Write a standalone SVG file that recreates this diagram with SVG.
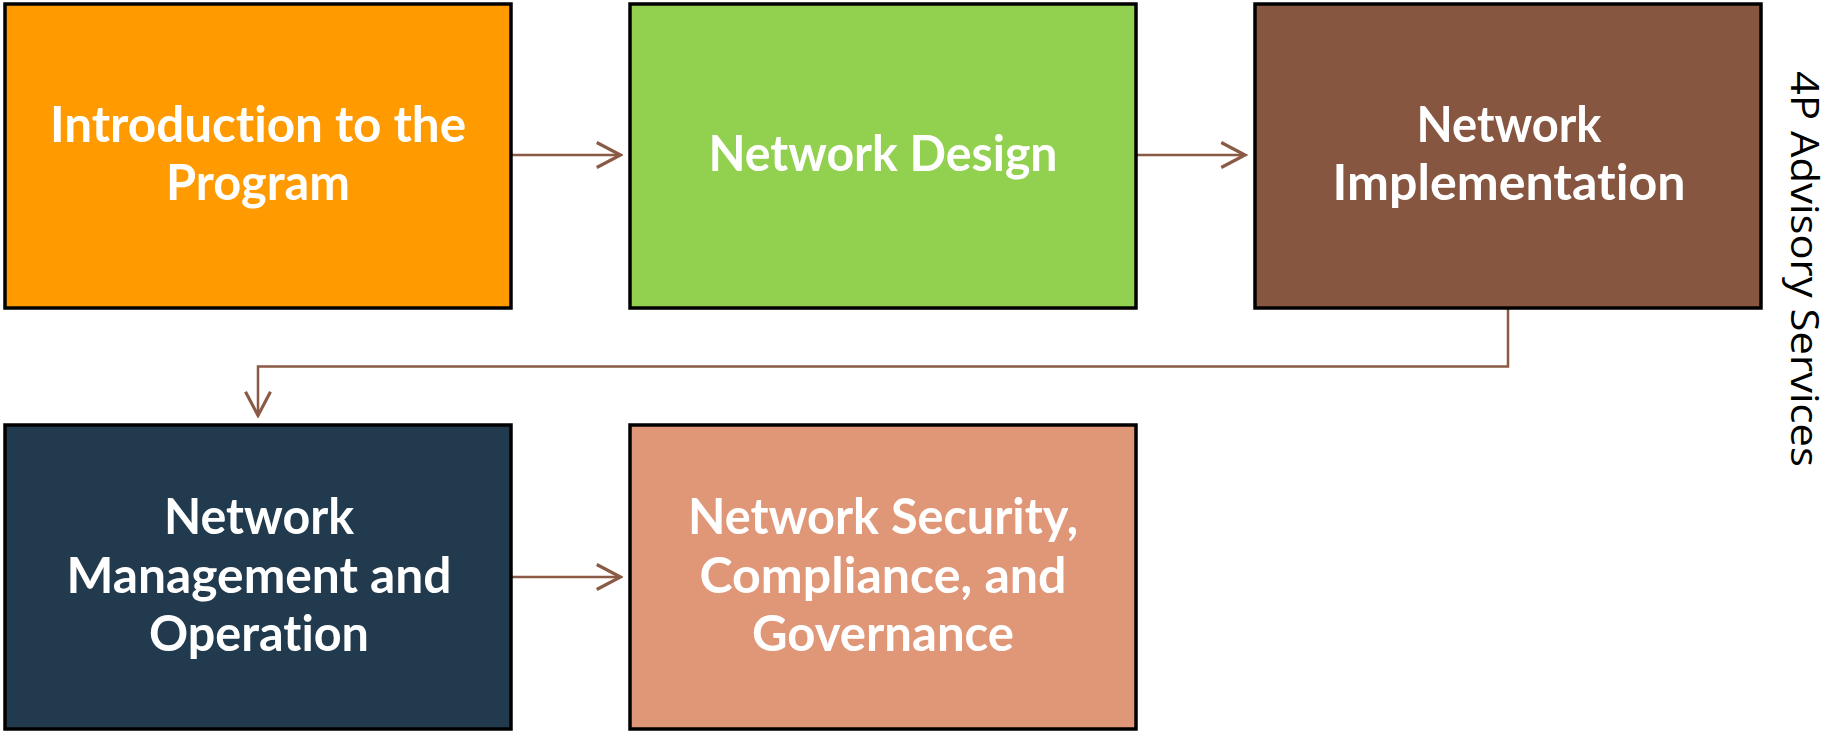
<svg xmlns="http://www.w3.org/2000/svg" width="1831" height="732" viewBox="0 0 1831 732">
<style>
.box{stroke:#000;stroke-width:3.5}
.lbl{font-family:Lato,"Open Sans","Liberation Sans",sans-serif;font-weight:bold;font-size:49px;fill:#fff;text-anchor:middle;font-variant-ligatures:none}
.conn{fill:none;stroke:#8A5A44;stroke-width:2.5}
.side{font-family:"Open Sans","Liberation Sans",sans-serif;font-size:38px;fill:#000}
</style>
<defs>
<marker id="arr" markerUnits="userSpaceOnUse" markerWidth="30" markerHeight="30" viewBox="-22 -12 24 24" refX="0" refY="0" orient="auto">
<path d="M-19,-10 L0,0 L-19,10" fill="none" stroke="#8A5A44" stroke-width="2.5"/>
</marker>
</defs>
<rect width="1831" height="732" fill="#fff"/>
<g id="connectors">
<path class="conn" d="M511,155 H620.5" marker-end="url(#arr)"/>
<path class="conn" d="M1136,155 H1245" marker-end="url(#arr)"/>
<path class="conn" d="M1508,308 V366.5 H258 V415.5" marker-end="url(#arr)"/>
<path class="conn" d="M511,577 H620.5" marker-end="url(#arr)"/>
</g>
<g id="node-intro">
<rect class="box" x="5" y="4" width="506" height="304" fill="#FF9A00"/>
<text class="lbl"><tspan x="258" y="141.7" textLength="416" lengthAdjust="spacingAndGlyphs">Introduction to the</tspan><tspan x="258" y="200" textLength="184" lengthAdjust="spacingAndGlyphs">Program</tspan></text>
</g>
<g id="node-design">
<rect class="box" x="630" y="4" width="506" height="304" fill="#92D050"/>
<text class="lbl"><tspan x="883" y="171" textLength="349" lengthAdjust="spacingAndGlyphs">Network Design</tspan></text>
</g>
<g id="node-implementation">
<rect class="box" x="1255" y="4" width="506" height="304" fill="#865640"/>
<text class="lbl"><tspan x="1509" y="141.7" textLength="185" lengthAdjust="spacingAndGlyphs">Network</tspan><tspan x="1509" y="200" textLength="353" lengthAdjust="spacingAndGlyphs">Implementation</tspan></text>
</g>
<g id="node-management">
<rect class="box" x="5" y="425" width="506" height="304" fill="#213A4E"/>
<text class="lbl"><tspan x="259" y="534.3" textLength="190" lengthAdjust="spacingAndGlyphs">Network</tspan><tspan x="259" y="593" textLength="385" lengthAdjust="spacingAndGlyphs">Management and</tspan><tspan x="259" y="651" textLength="220" lengthAdjust="spacingAndGlyphs">Operation</tspan></text>
</g>
<g id="node-security">
<rect class="box" x="630" y="425" width="506" height="304" fill="#E09778"/>
<text class="lbl"><tspan x="883" y="534" textLength="390" lengthAdjust="spacingAndGlyphs">Network Security,</tspan><tspan x="883" y="592.5" textLength="367" lengthAdjust="spacingAndGlyphs">Compliance, and</tspan><tspan x="883" y="650.5" textLength="262" lengthAdjust="spacingAndGlyphs">Governance</tspan></text>
</g>
<g id="side-label">
<text class="side" transform="translate(1791,71) rotate(90)" x="0" y="0" textLength="396" lengthAdjust="spacingAndGlyphs">4P Advisory Services</text>
</g>
</svg>
